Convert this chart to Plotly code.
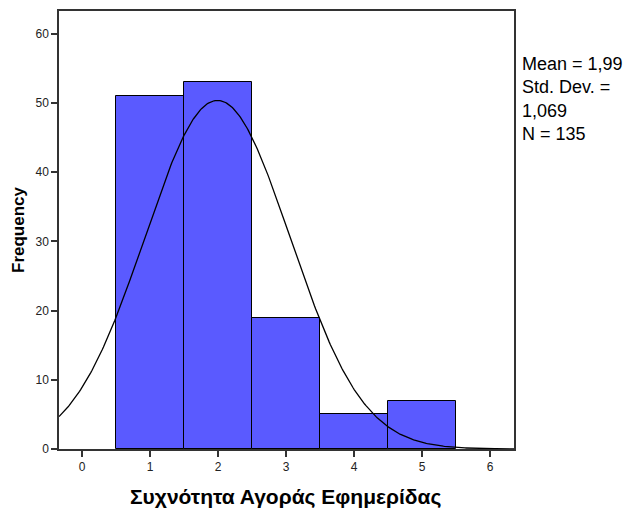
import numpy as np
import plotly.graph_objects as go

categories = [1, 2, 3, 4, 5]
frequencies = [51, 53, 19, 5, 7]
mean_val = 1.99
std_val = 1.069
n_val = 135
x_ticks = [0, 1, 2, 3, 4, 5, 6]
y_ticks = [0, 10, 20, 30, 40, 50, 60]

x_lo, x_hi = -0.34, 6.35
xs = np.linspace(x_lo, x_hi, 400)
ys = n_val * 1.0 / (std_val * np.sqrt(2 * np.pi)) * np.exp(-0.5 * ((xs - mean_val) / std_val) ** 2)

fig = go.Figure()
fig.add_trace(go.Bar(
    x=categories, y=frequencies, width=1,
    marker=dict(color="#5A5AFF", line=dict(color="black", width=1)),
    hoverinfo="x+y",
))
fig.add_trace(go.Scatter(
    x=xs, y=ys, mode="lines", line=dict(color="black", width=1.3),
    hoverinfo="skip",
))

fig.update_layout(
    width=636, height=512,
    margin=dict(l=59, r=122, t=11, b=63),
    paper_bgcolor="white", plot_bgcolor="white",
    showlegend=False,
    font=dict(family="Liberation Sans, Arial", color="black", size=12),
    xaxis=dict(
        range=[x_lo, x_hi], tickvals=x_ticks, ticktext=[str(v) for v in x_ticks],
        ticks="outside", ticklen=6, tickcolor="#333", tickwidth=1.5,
        showline=True, linecolor="#333", linewidth=1.5, mirror=True,
        showgrid=False, zeroline=False, automargin=False,
        tickfont=dict(size=12, color="#222"),
    ),
    yaxis=dict(
        range=[0, 63.3], tickvals=y_ticks, ticktext=[str(v) for v in y_ticks],
        ticks="outside", ticklen=6, tickcolor="#333", tickwidth=1.5,
        showline=True, linecolor="#333", linewidth=1.5, mirror=True,
        showgrid=False, zeroline=False, automargin=False,
        tickfont=dict(size=12, color="#222"),
    ),
    bargap=0,
)

fig.add_annotation(
    xref="paper", yref="paper", x=0.497, y=0, yshift=-48,
    xanchor="center", yanchor="middle", showarrow=False,
    text="<b>Συχνότητα Αγοράς Εφημερίδας</b>",
    font=dict(family="Liberation Sans, Arial", size=21, color="black"),
)
fig.add_annotation(
    xref="paper", yref="paper", x=0, xshift=-41, y=0.5,
    xanchor="center", yanchor="middle", showarrow=False, textangle=-90,
    text="<b>Frequency</b>",
    font=dict(family="Liberation Sans, Arial", size=17, color="black"),
)
fig.add_annotation(
    xref="paper", yref="paper", x=1.0, y=0.906, xshift=6,
    xanchor="left", yanchor="top", align="left", showarrow=False,
    text="Mean = 1,99<br>Std. Dev. =<br>1,069<br>N = 135",
    font=dict(family="Liberation Sans, Arial", size=18, color="black"),
)

fig.write_html("out.html")
